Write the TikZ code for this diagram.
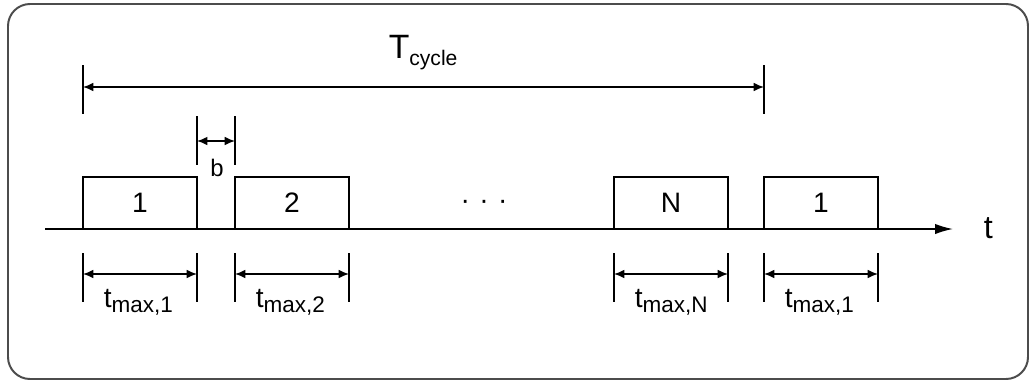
\documentclass[tikz,border=0pt]{standalone}
\usepackage{fontspec}
\setmainfont{Liberation Sans}
\usetikzlibrary{arrows.meta}
\newcommand{\lowtext}[3]{\raisebox{-#1}{\fontsize{#2}{#2}\selectfont #3}}

\begin{document}
\begin{tikzpicture}[x=0.025cm, y=-0.025cm, line width=1.1pt,
  >={Latex[length=2.6mm,width=2.2mm]},
  slot/.style={draw, anchor=south west, minimum width=2.85cm, minimum height=1.3cm, inner sep=0pt, outer sep=0pt, font=\fontsize{20}{24}\selectfont},
  lbl/.style={anchor=base west, inner sep=0pt, font=\fontsize{20}{24}\selectfont}]
\useasboundingbox (0,0) rectangle (1032,383);
\draw[black!70, line width=1.4pt, rounded corners=0.55cm] (8,4) rectangle (1028,379);

% time axis and slots
\coordinate (ax0) at (45,229);
\coordinate (ax1) at (953,229);
\draw[-{Latex[length=4.5mm,width=2.6mm]}] (ax0) -- (ax1);
\node[lbl, font=\fontsize{23}{26}\selectfont] (tl) at (983,238) {t};
\node[slot] (s1) at (83,229) {1};
\node[slot] (s2) at (235,229) {2};
\node[slot] (sN) at (614,229) {N};
\node[slot] (s4) at (764,229) {1};
\node[anchor=base, inner sep=0pt, font=\fontsize{20}{24}\selectfont] (dots) at (484,209) {·\,\,·\,\,·};

% levels of the dimension lines
\coordinate (ctop) at (0,65);  \coordinate (cmid) at (0,87);  \coordinate (cbot) at (0,114);
\coordinate (btop) at (0,116); \coordinate (bmid) at (0,141); \coordinate (bbot) at (0,165);
\coordinate (dtop) at (0,253); \coordinate (dmid) at (0,274); \coordinate (dbot) at (0,302);
\coordinate (dtxt) at (0,307);

% cycle
\draw (s1.south west |- ctop) -- (s1.south west |- cbot);
\draw (s4.south west |- ctop) -- (s4.south west |- cbot);
\draw[<->] (s1.south west |- cmid) -- (s4.south west |- cmid);
\node[lbl, font=\fontsize{24}{28}\selectfont] (tcyc) at (388,58) {T\lowtext{5pt}{15}{cycle}};

% gap b
\draw (s1.south east |- btop) -- (s1.south east |- bbot);
\draw (s2.south west |- btop) -- (s2.south west |- bbot);
\draw[<->] (s1.south east |- bmid) -- (s2.south west |- bmid);
\node[anchor=base, inner sep=0pt, font=\fontsize{17}{20}\selectfont] (gb) at (217,176) {b};

% slot lengths
\foreach \s/\n [count=\i] in {s1/1, s2/2, sN/N, s4/1} {
  \draw (\s.south west |- dtop) -- (\s.south west |- dbot);
  \draw (\s.south east |- dtop) -- (\s.south east |- dbot);
  \draw[<->] (\s.south west |- dmid) -- (\s.south east |- dmid);
  \node[lbl, xshift=0.5cm] (tm\i) at (\s.south west |- dtxt) {t\lowtext{4pt}{16}{max,\n}};
}
\end{tikzpicture}
\end{document}
